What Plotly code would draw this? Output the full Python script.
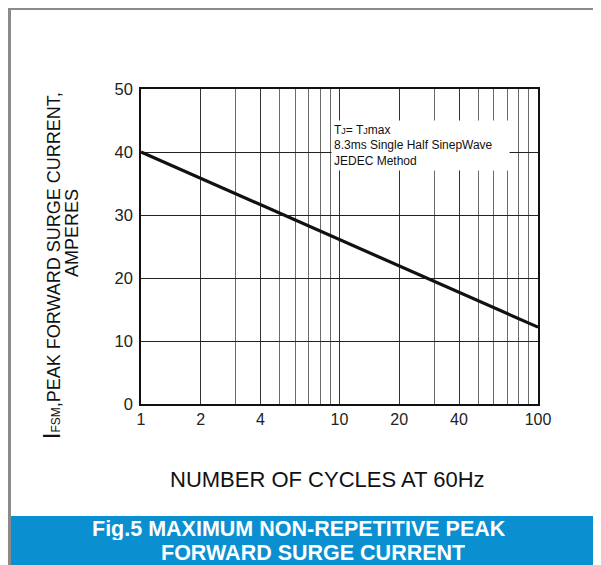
import plotly.graph_objects as go

# ---- data ----
cycles = [1, 10, 100]
surge_current = [40, 26.1, 12.2]

x_tick_vals = [1, 2, 4, 10, 20, 40, 100]
x_tick_text = ["1", "2", "4", "10", "20", "40", "100"]
x_minor_vals = [3, 5, 6, 7, 8, 9, 30, 50, 60, 70, 80, 90]
y_tick_vals = [0, 10, 20, 30, 40, 50]

# page offset of the figure inside the browser (body margin)
OFF = 8
W, H = 601 - OFF, 565 - OFF
# plot area in reference (screen) pixels
L, R, T, B = 141, 538, 89, 404

def px(x):
    return (x - L) / (R - L)

def py(y):
    return (B - y) / (B - T)

FONT = "Liberation Sans, Arial, sans-serif"

fig = go.Figure()
fig.add_trace(go.Scatter(x=cycles, y=surge_current, mode="lines",
                         line=dict(color="#111111", width=3.2),
                         showlegend=False, hoverinfo="skip"))

fig.update_xaxes(type="log", range=[0, 2],
                 tickvals=x_tick_vals, ticktext=x_tick_text,
                 showgrid=True, gridcolor="#333333", gridwidth=1.2,
                 minor=dict(tickvals=x_minor_vals, showgrid=True,
                            gridcolor="#6a6a6a", gridwidth=1.2, ticks=""),
                 ticks="", showline=True, linecolor="#111111", linewidth=1.5,
                 mirror=True, zeroline=False,
                 tickfont=dict(family=FONT, size=16, color="#222222"))
fig.update_yaxes(range=[0, 50], tickvals=y_tick_vals,
                 showgrid=True, gridcolor="#222222", gridwidth=1.2,
                 ticks="", showline=True, linecolor="#111111", linewidth=1.5,
                 mirror=True, zeroline=False, ticklabelstandoff=3,
                 tickfont=dict(family=FONT, size=16.5, color="#222222"))

shapes = [
    dict(type="rect", xref="paper", yref="paper", x0=px(8), x1=px(11), y0=py(570), y1=py(7),
         fillcolor="#8a8a8a", line=dict(width=0)),
    dict(type="rect", xref="paper", yref="paper", x0=px(8), x1=px(605), y0=py(10), y1=py(7),
         fillcolor="#8a8a8a", line=dict(width=0)),
    dict(type="rect", xref="paper", yref="paper", x0=px(11), x1=px(605), y0=py(570), y1=py(516),
         fillcolor="#0a8fd0", line=dict(width=0)),
]

annotations = [
    dict(xref="paper", yref="paper", x=px(331), y=py(120), xanchor="left", yanchor="top",
         text='T<span style="font-size:9px">J</span>= T<span style="font-size:9px">J</span>max<br>'
              '8.3ms Single Half SinepWave<br>JEDEC Method',
         align="left", showarrow=False, bgcolor="white", width=173, height=45, borderpad=2,
         font=dict(family=FONT, size=12, color="#111111")),
    dict(xref="paper", yref="paper", x=px(52), y=py(266), xanchor="center", yanchor="middle",
         textangle=-90, showarrow=False,
         text='<span style="font-size:23px">I</span><span style="font-size:12px">FSM</span>,PEAK FORWARD SURGE CURRENT,',
         font=dict(family=FONT, size=18, color="#111111")),
    dict(xref="paper", yref="paper", x=px(72), y=py(233), xanchor="center", yanchor="middle",
         textangle=-90, showarrow=False, text="AMPERES",
         font=dict(family=FONT, size=18, color="#111111")),
    dict(xref="paper", yref="paper", x=px(327), y=py(479), xanchor="center", yanchor="middle",
         showarrow=False, text="NUMBER OF CYCLES AT 60Hz",
         font=dict(family=FONT, size=22, color="#111111")),
    dict(xref="paper", yref="paper", x=px(299), y=py(528.5), xanchor="center", yanchor="middle",
         showarrow=False, text="<b>Fig.5 MAXIMUM NON-REPETITIVE PEAK</b>", height=23, borderpad=0,
         font=dict(family=FONT, size=21.5, color="white")),
    dict(xref="paper", yref="paper", x=px(313), y=py(552.5), xanchor="center", yanchor="middle",
         showarrow=False, text="<b>FORWARD SURGE CURRENT</b>", height=23, borderpad=0,
         font=dict(family=FONT, size=21.5, color="white")),
]

fig.update_layout(width=W, height=H, margin=dict(l=L - OFF, r=601 - R, t=T - OFF, b=565 - B),
                  paper_bgcolor="white", plot_bgcolor="white",
                  shapes=shapes, annotations=annotations, showlegend=False)

fig.write_html("out.html")
